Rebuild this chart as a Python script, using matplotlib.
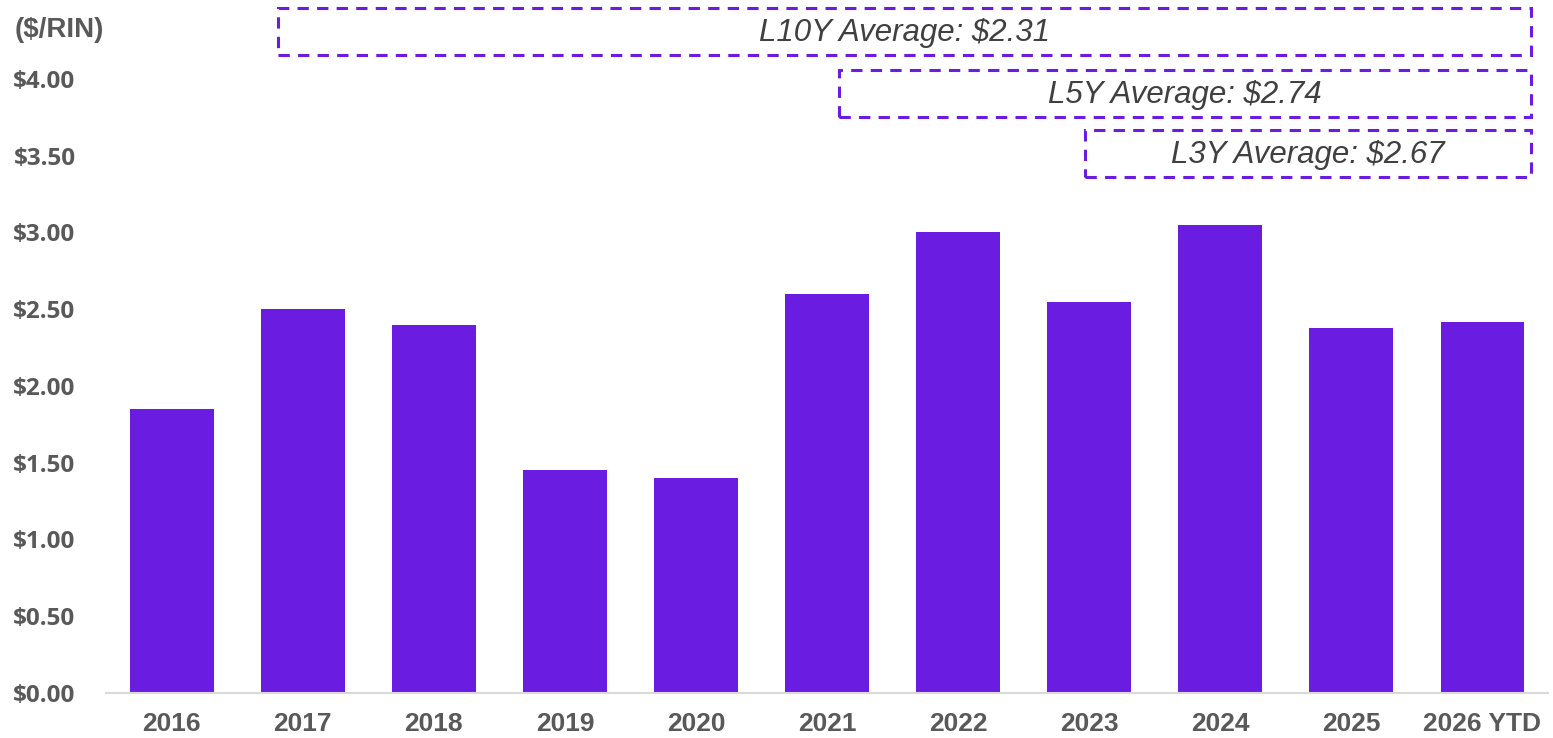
import matplotlib
matplotlib.use("Agg")
import matplotlib.pyplot as plt
from matplotlib.patches import Rectangle

# ---- data ----
categories = ["2016", "2017", "2018", "2019", "2020", "2021", "2022", "2023", "2024", "2025", "2026 YTD"]
values = [1.85, 2.50, 2.40, 1.45, 1.40, 2.60, 3.00, 2.55, 3.05, 2.38, 2.42]
avg_labels = ["L10Y Average: $2.31", "L5Y Average: $2.74", "L3Y Average: $2.67"]
y_ticks = [0.0, 0.5, 1.0, 1.5, 2.0, 2.5, 3.0, 3.5, 4.0]
unit_label = "($/RIN)"

# ---- layout / style ----
BAR_COLOR = "#6A1DE0"
TEXT_GRAY = "#595959"
BOX_TEXT = "#404040"
# boxes in data coords: (x0, x1, y0, y1)
box_geom = [
    (0.808, 10.37, 4.156, 4.463),
    (5.09, 10.37, 3.752, 4.059),
    (6.97, 10.37, 3.362, 3.668),
]

fig = plt.figure(figsize=(15.53, 7.38), dpi=100)
ax = fig.add_axes([0.0683, 0.061, 0.9285, 0.832])

x = list(range(len(categories)))
ax.bar(x, values, width=0.64, color=BAR_COLOR, zorder=2)

ax.set_xlim(-0.5, len(categories) - 0.5)
ax.set_ylim(0, 4.0)
ax.set_yticks(y_ticks)
ax.set_yticklabels([f"${v:.2f}" for v in y_ticks], fontfamily="Open Sans",
                   fontweight="bold", fontsize=17.5, color=TEXT_GRAY)
ax.set_xticks(x)
ax.set_xticklabels(categories, fontfamily="Liberation Sans", fontweight="bold",
                   fontsize=19, color=TEXT_GRAY)
ax.tick_params(axis="y", length=0, pad=22)
ax.tick_params(axis="x", length=0, pad=14)
for s in ["top", "right", "left"]:
    ax.spines[s].set_visible(False)
ax.spines["bottom"].set_color("#D9D9D9")
ax.spines["bottom"].set_linewidth(1.5)

for (x0, x1, y0, y1), label in zip(box_geom, avg_labels):
    r = Rectangle((x0, y0), x1 - x0, y1 - y0, fill=False, edgecolor=BAR_COLOR,
                  linewidth=2.2, linestyle=(0, (3.7, 2.7)), clip_on=False, zorder=3)
    ax.add_patch(r)
    ax.text((x0 + x1) / 2, (y0 + y1) / 2 - 0.013, label, ha="center", va="center",
            fontfamily="Liberation Sans", fontstyle="italic", fontsize=22.5,
            color=BOX_TEXT, clip_on=False)

fig.text(15 / 1553, 1 - 30 / 738, unit_label, ha="left", va="center",
         fontfamily="Liberation Sans", fontweight="bold", fontsize=20, color=TEXT_GRAY)

fig.savefig("out.png", dpi=100)
